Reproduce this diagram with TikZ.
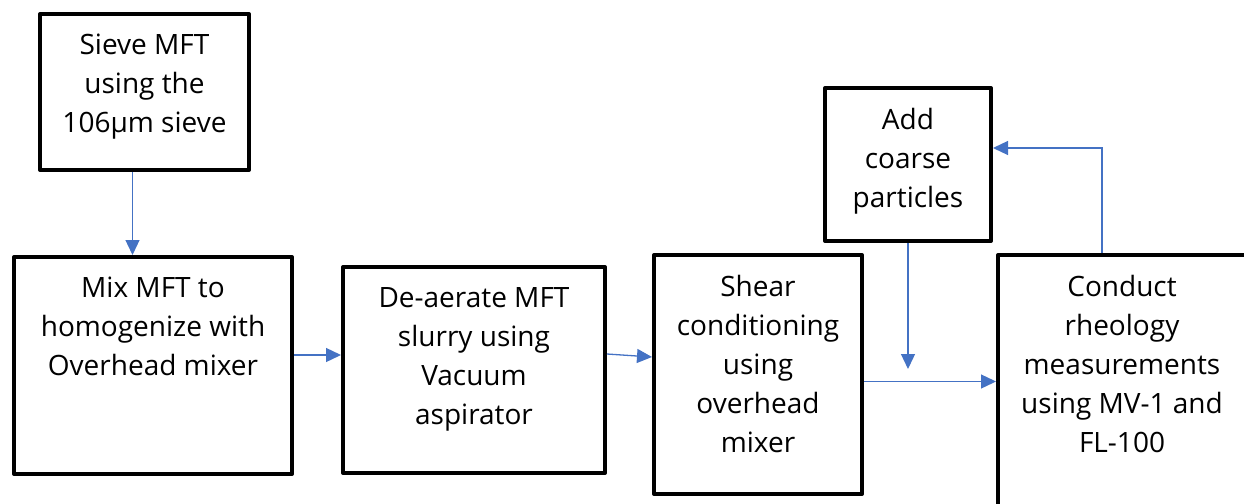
\documentclass[tikz,border=0pt]{standalone}
\usepackage{fontspec}
\setmainfont{Open Sans}
\usepackage{tikz}
\usetikzlibrary{positioning,arrows.meta}
\definecolor{flowblue}{HTML}{4472C4}

\begin{document}
\begin{tikzpicture}[x=1pt, y=-1pt,
  stepbox/.style={draw, line width=4pt, line join=round, inner sep=0pt},
  steptext/.style={align=center, inner sep=0pt, font=\fontsize{28}{39}\selectfont},
  flow/.style={draw=flowblue, line width=1.3pt, -{Triangle[length=15pt,width=14pt]}}]
\useasboundingbox (0,0) rectangle (1244,503);
\clip (0,0) rectangle (1244,503);
% boxes
\node[stepbox, minimum width=209pt, minimum height=156pt] (sieve) at (144.5,92) {};
\node[stepbox, minimum width=278pt, minimum height=217pt] (mix) at (153,365.5) {};
\node[stepbox, minimum width=262pt, minimum height=206pt] (deaerate) at (474,370) {};
\node[stepbox, minimum width=208pt, minimum height=239pt] (shear) at (758,374.5) {};
\node[stepbox, minimum width=166pt, minimum height=153pt] (coarse) at (908,164.5) {};
\node[stepbox, minimum width=248pt, minimum height=280pt] (conduct) at (1122,395) {};
% texts
\node[steptext, below=22pt of sieve.north] (sieve-t) {Sieve MFT\\using the\\106µm sieve};
\node[steptext, below=22pt of mix.north] (mix-t) {Mix MFT to\\homogenize with\\Overhead mixer};
\node[steptext, below=22pt of deaerate.north] (deaerate-t) {De-aerate MFT\\slurry using\\Vacuum\\aspirator};
\node[steptext, below=22pt of shear.north] (shear-t) {Shear\\conditioning\\using\\overhead\\mixer};
\node[steptext, below=22pt of coarse.north] (coarse-t) {Add\\coarse\\particles};
\node[steptext, below=22pt of conduct.north] (conduct-t) {Conduct\\rheology\\measurements\\using MV-1 and\\FL-100};
% connectors
\coordinate (drop) at (908,369);
\draw[flow] ([xshift=-12pt]sieve.south) -- ([xshift=-12pt]sieve.south |- mix.north);
\draw[flow] ([yshift=10.5pt]mix.east) -- ([yshift=10.5pt]mix.east -| deaerate.west);
\draw[flow] ([yshift=16pt]deaerate.east) -- ([yshift=17.5pt]shear.west);
\draw[flow] ([yshift=-7pt]shear.east) -- ([yshift=-7pt]shear.east -| conduct.west);
\draw[flow] (coarse.south) -- (drop);
\draw[flow] ([xshift=-20pt]conduct.north) |- ([yshift=16.5pt]coarse.east);
\end{tikzpicture}
\end{document}
